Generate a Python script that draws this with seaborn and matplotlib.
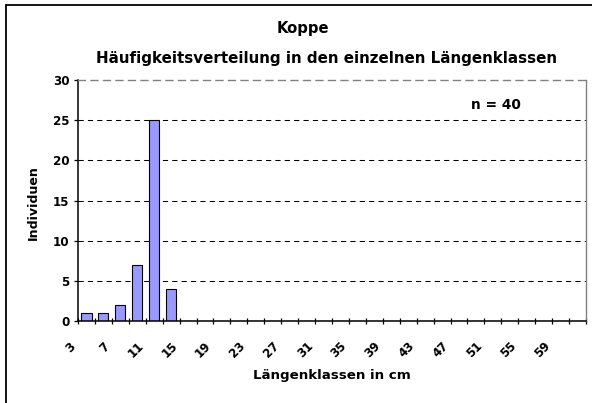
import matplotlib
matplotlib.use("Agg")
import matplotlib.pyplot as plt
import matplotlib.transforms as mtransforms
from matplotlib.lines import Line2D
import seaborn as sns
import pandas as pd

# ---- data ----
categories = [str(v) for v in range(3, 62, 2)]          # Längenklassen 3..61 cm
counts = [1, 1, 2, 7, 25, 4] + [0] * 24                  # Individuen
tick_labels = [str(v) for v in range(3, 60, 4)]          # every other class
y_ticks = [0, 5, 10, 15, 20, 25, 30]

title = "Koppe"
subtitle = "Häufigkeitsverteilung in den einzelnen Längenklassen"
xlabel = "Längenklassen in cm"
ylabel = "Individuen"
note = "n = 40"

df = pd.DataFrame({"klasse": categories, "anzahl": counts})

sns.set_theme(style="white")
plt.rcParams["font.family"] = ["DejaVu Sans"]
plt.rcParams["font.weight"] = "bold"
for k in ["text.color", "axes.labelcolor", "xtick.color", "ytick.color"]:
    plt.rcParams[k] = "black"

W, H, DPI = 592, 403, 100
fig = plt.figure(figsize=(W / DPI, H / DPI), dpi=DPI)
fig.patch.set_facecolor("white")

L, R, T, B = 78, 586, 80, 321
ax = fig.add_axes([L / W, 1 - B / H, (R - L) / W, (B - T) / H])

sns.barplot(data=df, x="klasse", y="anzahl", order=categories, color="#9999FF",
            saturation=1, edgecolor="black", linewidth=0.8, width=0.6, ax=ax)

ax.set_xlim(-0.5, len(categories) - 0.5)
ax.set_ylim(0, 30)

TICK_FS = 8.6

# y axis
ax.set_yticks(y_ticks)
ax.set_yticklabels([str(v) for v in y_ticks], fontsize=TICK_FS, fontweight="bold",
                   color="black")
ax.tick_params(axis="y", left=True, direction="out", length=3, width=0.9,
               color="black", labelcolor="black", pad=3)
for v in y_ticks[1:-1]:
    ax.axhline(v, color="black", lw=0.75, ls=(0, (5, 4)), zorder=0.5)

# x axis: minor ticks at class boundaries (cross), labels every other class
ax.set_xticks([i - 0.5 for i in range(len(categories) + 1)], minor=True)
ax.tick_params(axis="x", which="minor", bottom=True, direction="inout",
               length=5, width=0.9, color="black")
major_pos = [categories.index(t) for t in tick_labels]
ax.set_xticks(major_pos)
ax.set_xticklabels(tick_labels, rotation=45, ha="right", va="top",
                   fontsize=TICK_FS, fontweight="bold", color="black")
ax.tick_params(axis="x", which="major", bottom=True, length=0, pad=13.5,
               labelcolor="black")
offset = mtransforms.ScaledTranslation(-8 / DPI, 0, fig.dpi_scale_trans)
for lab in ax.get_xticklabels():
    lab.set_transform(lab.get_transform() + offset)

# spines
for s in ["left", "bottom"]:
    ax.spines[s].set_color("black")
    ax.spines[s].set_linewidth(1.1)
ax.spines["right"].set_color("#808080")
ax.spines["right"].set_linewidth(1.0)
ax.spines["top"].set_color("#808080")
ax.spines["top"].set_linewidth(1.0)
ax.spines["top"].set_linestyle((0, (5, 4)))

ax.set_xlabel("")
ax.set_ylabel("")

# labels
texts = []
texts.append((fig.text(332 / W, 1 - 376 / H, xlabel, ha="center", va="center",
                       fontsize=10, fontweight="bold", color="black"), 158, "w"))
texts.append((fig.text(33 / W, 1 - 203 / H, ylabel, ha="center", va="center",
                       rotation=90, fontsize=10, fontweight="bold",
                       color="black"), 75, "h"))
texts.append((fig.text(303 / W, 1 - 33 / H, title, ha="center", va="baseline",
                       fontsize=11, fontweight="bold", color="black"), 52, "w"))
texts.append((fig.text(326 / W, 1 - 63 / H, subtitle, ha="center", va="baseline",
                       fontsize=11, fontweight="bold", color="black"), 463, "w"))
texts.append((ax.text((496 - L) / (R - L), (B - 105) / (B - T), note,
                      transform=ax.transAxes, ha="center", va="center",
                      fontsize=10, fontweight="bold", color="black"), 50, "w"))

# size each text so that its extent matches the reference
renderer = fig.canvas.get_renderer()
for t, target, dim in texts:
    bb = t.get_window_extent(renderer)
    cur = bb.width if dim == "w" else bb.height
    t.set_fontsize(t.get_fontsize() * target / cur)

# chart frame: only the left and top edges lie inside the picture
fig.add_artist(Line2D([6 / W, 6 / W], [0, 1 - 5 / H], transform=fig.transFigure,
                      color="black", lw=1.3))
fig.add_artist(Line2D([6 / W, 1], [1 - 5 / H, 1 - 5 / H], transform=fig.transFigure,
                      color="black", lw=1.3))

fig.savefig("out.png", dpi=DPI)
